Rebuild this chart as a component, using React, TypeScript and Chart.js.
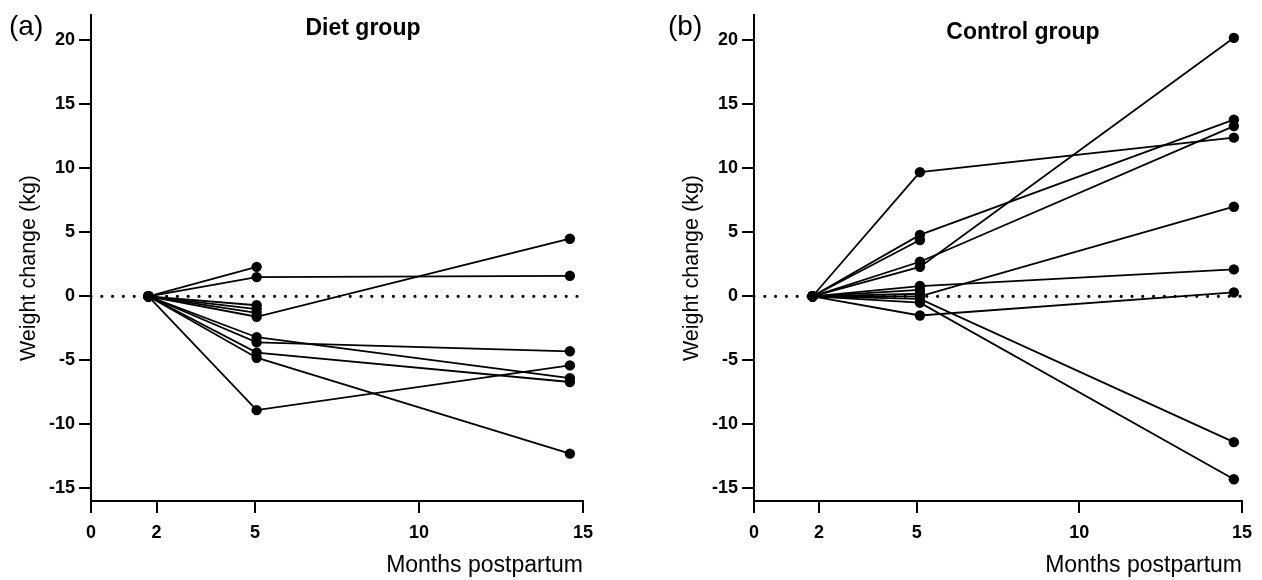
import React, { useEffect, useRef } from "react";
import { Chart, registerables } from "chart.js";
Chart.register(...registerables);

// Axis ticks
const xTickValues = [0, 2, 5, 10, 15];
const yTickValues = [-15, -10, -5, 0, 5, 10, 15, 20];

// Diet group: measurement months and weight change per subject
const dietMonths = [1.75, 5.05, 14.6];
const dietAt2 = [0, 0, 0, 0, 0, 0, 0, 0, 0, 0, 0];
const dietAt5 = [2.3, 1.5, -0.7, -1.0, -1.3, -1.6, -3.2, -3.6, -4.4, -4.8, -8.9];
const dietAt15 = [null, 1.6, null, null, null, 4.5, -6.4, -4.3, -6.7, -12.3, -5.4];

// Control group
const controlMonths = [1.8, 5.1, 14.75];
const controlAt2 = [0, 0, 0, 0, 0, 0, 0, 0, 0, 0, 0, 0];
const controlAt5 = [9.7, 4.8, 4.4, 2.7, 2.3, 0.8, 0.5, 0.2, 0.0, -0.2, -0.5, -1.5];
const controlAt15 = [12.4, 13.8, null, 13.3, 20.2, 2.1, null, null, 7.0, -11.4, -14.3, 0.3];

const FONT = "'Liberation Sans', Arial, sans-serif";

type PanelProps = {
  months: number[];
  at2: number[];
  at5: number[];
  at15: (number | null)[];
  width: number;
  padRight: number;
  left: number;
};

function Panel({ months, at2, at5, at15, width, padRight, left }: PanelProps) {
  const ref = useRef<HTMLCanvasElement | null>(null);
  useEffect(() => {
    if (!ref.current) return;
    const datasets: any[] = [
      {
        data: [
          { x: 0, y: 0 },
          { x: 15, y: 0 },
        ],
        borderColor: "#000",
        borderWidth: 3.2,
        borderDash: [0, 10.8],
        borderCapStyle: "round",
        pointRadius: 0,
        order: 2,
      },
    ];
    for (let i = 0; i < at5.length; i++) {
      const pts: { x: number; y: number }[] = [
        { x: months[0], y: at2[i] },
        { x: months[1], y: at5[i] },
      ];
      const v = at15[i];
      if (v !== null && v !== undefined) pts.push({ x: months[2], y: v });
      datasets.push({
        data: pts,
        borderColor: "#000",
        borderWidth: 1.8,
        pointRadius: 5.2,
        pointBackgroundColor: "#000",
        pointBorderColor: "#000",
        pointBorderWidth: 0,
        order: 1,
      });
    }
    const chart = new Chart(ref.current, {
      type: "line",
      data: { datasets },
      options: {
        animation: false,
        responsive: false,
        clip: false,
        layout: { padding: { left: 0, right: padRight, top: 12, bottom: 0 } },
        plugins: { legend: { display: false }, tooltip: { enabled: false } },
        scales: {
          x: {
            type: "linear",
            min: 0,
            max: 15,
            afterBuildTicks: (axis: any) => {
              axis.ticks = xTickValues.map((v) => ({ value: v }));
            },
            afterFit: (scale: any) => {
              scale.height = 79;
            },
            ticks: {
              color: "#000",
              padding: 9,
              maxRotation: 0,
              font: { family: FONT, size: 18, weight: "bold" },
            },
            grid: {
              display: true,
              drawOnChartArea: false,
              drawTicks: true,
              tickLength: 12,
              color: "#000",
              lineWidth: 2,
            },
            border: { display: true, color: "#000", width: 2 },
            title: {
              display: true,
              text: "Months postpartum",
              align: "end",
              color: "#000",
              font: { family: FONT, size: 23, weight: "normal" },
              padding: { top: 0, bottom: 1 },
            },
          },
          y: {
            type: "linear",
            min: -16,
            max: 22,
            afterBuildTicks: (axis: any) => {
              axis.ticks = yTickValues.map((v) => ({ value: v }));
            },
            afterFit: (scale: any) => {
              scale.width = 91;
            },
            ticks: {
              color: "#000",
              padding: 4,
              font: { family: FONT, size: 18, weight: "bold" },
            },
            grid: {
              display: true,
              drawOnChartArea: false,
              drawTicks: true,
              tickLength: 12,
              color: "#000",
              lineWidth: 2,
            },
            border: { display: true, color: "#000", width: 2 },
            title: { display: false },
          },
        },
      } as any,
    });
    return () => chart.destroy();
  }, []);
  return (
    <canvas
      ref={ref}
      width={width}
      height={580}
      style={{ position: "absolute", left, top: 0, width, height: 580 }}
    />
  );
}

function YTitle({ cx, cy }: { cx: number; cy: number }) {
  return (
    <div
      style={{
        position: "absolute",
        left: cx - 150,
        top: cy - 13,
        width: 300,
        height: 26,
        lineHeight: "26px",
        fontSize: 21.5,
        textAlign: "center",
        transform: "rotate(-90deg)",
        whiteSpace: "nowrap",
      }}
    >
      Weight change (kg)
    </div>
  );
}

export default function App() {
  return (
    <div
      style={{
        position: "fixed",
        left: 0,
        top: 0,
        width: 1262,
        height: 580,
        background: "#fff",
        fontFamily: FONT,
        color: "#000",
      }}
    >
      <Panel months={dietMonths} at2={dietAt2} at5={dietAt5} at15={dietAt15} width={631} padRight={48} left={0} />
      <Panel
        months={controlMonths}
        at2={controlAt2}
        at5={controlAt5}
        at15={controlAt15}
        width={599}
        padRight={20}
        left={663}
      />
      <YTitle cx={28} cy={268} />
      <YTitle cx={691} cy={268} />
      <div style={{ position: "absolute", left: 9, top: 10, fontSize: 28, lineHeight: "32px" }}>(a)</div>
      <div style={{ position: "absolute", left: 668, top: 10, fontSize: 28, lineHeight: "32px" }}>(b)</div>
      <div
        style={{
          position: "absolute",
          left: 243,
          width: 240,
          top: 14,
          fontSize: 23,
          lineHeight: "26px",
          fontWeight: "bold",
          textAlign: "center",
        }}
      >
        Diet group
      </div>
      <div
        style={{
          position: "absolute",
          left: 903,
          width: 240,
          top: 18,
          fontSize: 23,
          lineHeight: "26px",
          fontWeight: "bold",
          textAlign: "center",
        }}
      >
        Control group
      </div>
    </div>
  );
}
